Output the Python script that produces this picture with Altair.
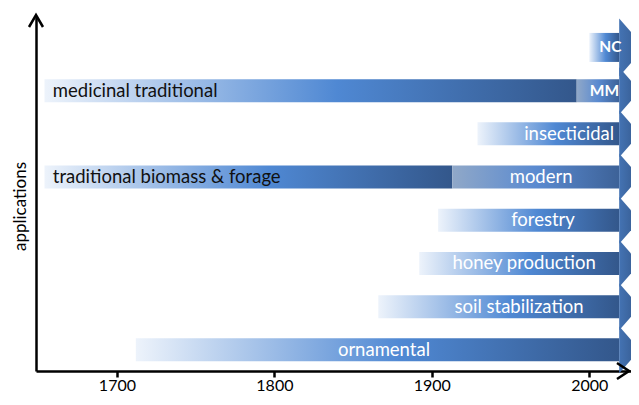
import altair as alt
import pandas as pd

# ---- data ----
categories = ["NC", "medicinal traditional", "insecticidal", "traditional biomass & forage",
              "forestry", "honey production", "soil stabilization", "ornamental"]
start_year = [2000, 1654, 1929, 1654, 1904, 1892, 1866, 1712]
split_year = [2019, 1992, 2019, 1913, 2019, 2019, 2019, 2019]
arrow_year = [2019, 2019, 2019, 2019, 2019, 2019, 2019, 2019]

label_text = ["NC", "medicinal traditional", "MM", "insecticidal", "traditional biomass & forage",
              "modern", "forestry", "honey production", "soil stabilization", "ornamental"]
label_row = ["NC", "medicinal traditional", "medicinal traditional", "insecticidal",
             "traditional biomass & forage", "traditional biomass & forage", "forestry",
             "honey production", "soil stabilization", "ornamental"]
label_year = [2013.4, 1659.3, 2009.6, 1987.2, 1659.3, 1969.4, 1970.6, 1958.6, 1955.4, 1869.6]
label_kind = ["bold", "dark", "bold", "white", "dark", "white", "white", "white", "white", "white"]

tick_years = [1700, 1800, 1900, 2000]
x_domain = [1648.6, 2026.5]

bars = pd.DataFrame({"row": categories, "start": start_year, "split": split_year, "arrow": arrow_year})
labels = pd.DataFrame({"text": label_text, "row": label_row, "year": label_year, "kind": label_kind})
one = pd.DataFrame({"k": [0]})

# ---- styles ----
def grad(stops):
    return alt.Gradient(gradient="linear", x1=0, x2=1, y1=0, y2=0,
                        stops=[alt.GradientStop(color=c, offset=o) for o, c in stops])

main_grad = grad([(0, "#edf3fb"), (0.55, "#4f88d3"), (1, "#33578b")])
second_grad = grad([(0, "#90a8c8"), (0.5, "#5a8ad0"), (1, "#3d6298")])
arrow_grad = grad([(0, "#4473b3"), (1, "#34588c")])

FONT = "Lato"
xs = alt.Scale(domain=x_domain, nice=False, zero=False)

X = alt.X("start:Q", scale=xs,
          axis=alt.Axis(values=tick_years, format="d", title=None, grid=False,
                        domainColor="black", domainWidth=2.5, tickColor="black",
                        tickWidth=2.5, tickSize=6, labelFont=FONT, labelFontSize=16,
                        labelColor="black", labelPadding=0, labelFlush=False))
Y = alt.Y("row:N", sort=categories,
          scale=alt.Scale(type="point", padding=0.597, align=0.59),
          axis=alt.Axis(title="applications", ticks=False, labels=False, grid=False,
                        domainColor="black", domainWidth=2.5, titleFont=FONT,
                        titleFontSize=17, titleFontWeight="normal", titleColor="black",
                        titleX=-16, titleY=189, titleBaseline="middle", titleAngle=270))

bar_size = alt.condition(alt.datum.row == "NC", alt.value(29), alt.value(23))
arrow_size = alt.condition(alt.datum.row == "NC", alt.value(3364), alt.value(2209))

main = alt.Chart(bars).mark_bar(fill=main_grad).encode(
    x=X, x2="split:Q", y=Y, size=bar_size)

second = alt.Chart(bars).transform_filter(alt.datum.split < alt.datum.arrow).mark_bar(
    fill=second_grad).encode(
    x=alt.X("split:Q", scale=xs), x2="arrow:Q", y=Y, size=bar_size)

heads = alt.Chart(bars).mark_point(shape="M0,-1L0.875,0L0,1Z", filled=True, fill=arrow_grad,
                                   opacity=1, strokeWidth=0).encode(
    x=alt.X("arrow:Q", scale=xs), y=Y, size=arrow_size)

lx = alt.X("year:Q", scale=xs)

dark_txt = alt.Chart(labels).transform_filter(alt.datum.kind == "dark").mark_text(
    align="left", baseline="middle", font=FONT, fontSize=18.5, color="#111111").encode(
    x=lx, y=Y, text="text:N")
white_txt = alt.Chart(labels).transform_filter(alt.datum.kind == "white").mark_text(
    align="center", baseline="middle", font=FONT, fontSize=18.5, color="white").encode(
    x=lx, y=Y, text="text:N")
bold_txt = alt.Chart(labels).transform_filter(alt.datum.kind == "bold").mark_text(
    align="center", baseline="middle", font=FONT, fontSize=15.5, fontWeight="bold",
    color="white").encode(x=lx, y=Y, text="text:N")

x_arrow = alt.Chart(one).mark_point(shape="M-1,-0.667L0,0L-1,0.667", filled=False,
                                    stroke="black", strokeWidth=2.5, opacity=1,
                                    strokeJoin="miter", size=576).encode(
    x=alt.value(593), y=alt.value(354))
y_arrow = alt.Chart(one).mark_point(shape="M-0.583,1L0,0L0.583,1", filled=False,
                                    stroke="black", strokeWidth=2.5, opacity=1,
                                    strokeJoin="miter", size=576).encode(
    x=alt.value(0), y=alt.value(-2))

chart = alt.layer(main, second, heads, dark_txt, white_txt, bold_txt, x_arrow, y_arrow).properties(
    width=595, height=354, autosize="none",
    padding={"left": 28, "top": 9, "right": 0, "bottom": 21},
    background="white",
).configure_view(stroke=None)

chart.save("out.html", embed_options={"renderer": "svg", "actions": False})
